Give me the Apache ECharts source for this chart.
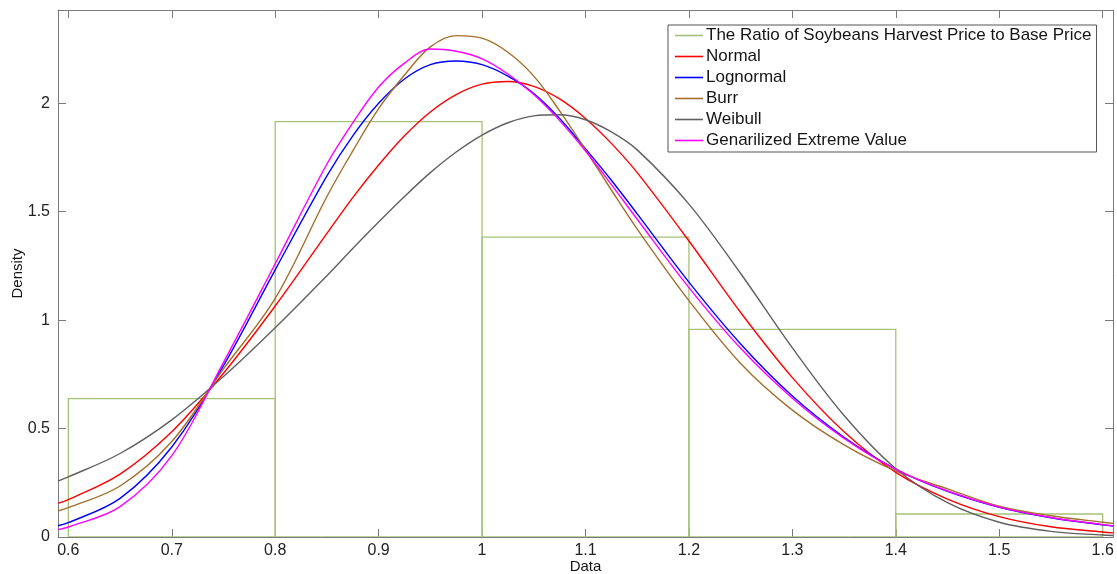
<!DOCTYPE html>
<html>
<head>
<meta charset="utf-8">
<script src="https://cdn.jsdelivr.net/npm/echarts@6/dist/echarts.min.js"></script>
<style>
html,body{margin:0;padding:0;background:#fff;}
#chart{width:1117px;height:574px;}
</style>
</head>
<body>
<div id="chart"></div>
<script>
// ---------- data ----------
const xTicks = [0.6, 0.7, 0.8, 0.9, 1.0, 1.1, 1.2, 1.3, 1.4, 1.5, 1.6];
const yTicks = [0, 0.5, 1, 1.5, 2];

const binStart   = [0.6, 0.8, 1.0, 1.2, 1.4];
const binEnd     = [0.8, 1.0, 1.2, 1.4, 1.6];
const binDensity = [0.638, 1.915, 1.383, 0.957, 0.106];

const xs = [0.59, 0.6, 0.65, 0.7, 0.75, 0.8, 0.85, 0.875, 0.9, 0.925, 0.95, 0.975, 1.0, 1.025,
            1.05, 1.075, 1.1, 1.125, 1.15, 1.2, 1.25, 1.3, 1.35, 1.4, 1.45, 1.5, 1.55, 1.6, 1.61];

const normalY = [0.155, 0.172, 0.29, 0.485, 0.755, 1.065, 1.40, 1.565, 1.715, 1.85, 1.96, 2.04, 2.088, 2.10,
                 2.078, 2.02, 1.93, 1.815, 1.68, 1.365, 1.035, 0.735, 0.485, 0.298, 0.175, 0.094, 0.047, 0.023, 0.019];
const lognormalY = [0.052, 0.066, 0.178, 0.415, 0.79, 1.232, 1.665, 1.85, 2.0, 2.112, 2.178, 2.195, 2.178, 2.125,
                    2.045, 1.93, 1.79, 1.645, 1.49, 1.175, 0.89, 0.65, 0.46, 0.313, 0.21, 0.137, 0.089, 0.056, 0.051];
const burrY = [0.12, 0.135, 0.235, 0.44, 0.775, 1.10, 1.57, 1.78, 1.975, 2.13, 2.26, 2.312, 2.30, 2.235,
               2.125, 1.965, 1.785, 1.6, 1.42, 1.09, 0.80, 0.585, 0.425, 0.305, 0.222, 0.142, 0.098, 0.068, 0.063];
const weibullY = [0.258, 0.277, 0.385, 0.54, 0.74, 0.965, 1.205, 1.33, 1.452, 1.57, 1.68, 1.775, 1.853, 1.91,
                  1.942, 1.947, 1.924, 1.868, 1.785, 1.535, 1.215, 0.872, 0.56, 0.315, 0.158, 0.068, 0.026, 0.009, 0.007];
const gevY = [0.034, 0.046, 0.14, 0.375, 0.805, 1.26, 1.72, 1.91, 2.075, 2.185, 2.25, 2.24, 2.205, 2.135,
              2.04, 1.92, 1.78, 1.625, 1.465, 1.15, 0.87, 0.64, 0.455, 0.312, 0.212, 0.138, 0.09, 0.057, 0.052];

const names = ['The Ratio of Soybeans Harvest Price to Base Price', 'Normal', 'Lognormal', 'Burr', 'Weibull', 'Genarilized Extreme Value'];
const colors = ['#a6c27a', '#ff0000', '#0000ff', '#a36f2b', '#606060', '#ff00ff'];

// ---------- chart ----------
const font = "'Liberation Sans', Arial, sans-serif";
const axisColor = '#7a7a7a';
const pair = (ys) => xs.map((x, i) => [x, ys[i]]);
const fmt = (v) => String(+(+v).toFixed(2));

const lineSeries = (name, ys, color) => ({
  name, type: 'line', data: pair(ys), smooth: 0.35, symbol: 'none', showSymbol: false,
  clip: true, itemStyle: { color }, lineStyle: { color, width: 1.4 }, z: 3
});

const chart = echarts.init(document.getElementById('chart'), null, { renderer: 'canvas' });
chart.setOption({
  animation: false,
  backgroundColor: '#fff',
  textStyle: { fontFamily: font },
  grid: { left: 58, right: 4, top: 10, bottom: 37, containLabel: false, outerBoundsMode: 'none' },
  legend: {
    orient: 'vertical', left: 668, top: 25,
    data: names,
    icon: 'rect', itemWidth: 28, itemHeight: 1.6, itemGap: 4,
    padding: [2, 5, 3, 7],
    backgroundColor: '#fff', borderColor: '#555', borderWidth: 1,
    textStyle: { fontSize: 17, color: '#151515', fontFamily: font, lineHeight: 17, padding: [0, 0, 0, -2] },
    selectedMode: false
  },
  xAxis: [{
    type: 'value', min: 0.59, max: 1.61, position: 'bottom',
    name: 'Data', nameLocation: 'middle', nameGap: 22, nameMoveOverlap: false,
    nameTextStyle: { fontSize: 15, color: '#151515', fontFamily: font },
    axisLine: { show: true, onZero: false, lineStyle: { color: axisColor, width: 1 } },
    axisTick: { show: true, inside: true, length: 8, customValues: xTicks, lineStyle: { color: axisColor } },
    axisLabel: { show: true, customValues: xTicks, formatter: fmt, fontSize: 16, color: '#222', margin: 6, fontFamily: font },
    splitLine: { show: false }
  }, {
    type: 'value', min: 0.59, max: 1.61, position: 'top',
    axisLine: { show: true, onZero: false, lineStyle: { color: axisColor, width: 1 } },
    axisTick: { show: true, inside: true, length: 8, customValues: xTicks, lineStyle: { color: axisColor } },
    axisLabel: { show: false },
    splitLine: { show: false }
  }],
  yAxis: [{
    type: 'value', min: 0, max: 2.43, position: 'left',
    name: 'Density', nameLocation: 'middle', nameGap: 33, nameRotate: 90, nameMoveOverlap: false,
    nameTextStyle: { fontSize: 15, color: '#151515', fontFamily: font },
    axisLine: { show: true, onZero: false, lineStyle: { color: axisColor, width: 1 } },
    axisTick: { show: true, inside: true, length: 8, customValues: yTicks, lineStyle: { color: axisColor } },
    axisLabel: { show: true, customValues: yTicks, formatter: fmt, fontSize: 16, color: '#222', margin: 8, fontFamily: font },
    splitLine: { show: false }
  }, {
    type: 'value', min: 0, max: 2.43, position: 'right',
    axisLine: { show: true, onZero: false, lineStyle: { color: axisColor, width: 1 } },
    axisTick: { show: true, inside: true, length: 8, customValues: yTicks, lineStyle: { color: axisColor } },
    axisLabel: { show: false },
    splitLine: { show: false }
  }],
  series: [
    {
      name: names[0], type: 'custom', clip: true, z: 2,
      itemStyle: { color: colors[0] },
      encode: { x: [0, 1], y: 2 },
      data: binStart.map((s, i) => [s, binEnd[i], binDensity[i]]),
      renderItem: (params, api) => {
        const p0 = api.coord([api.value(0), api.value(2)]);
        const p1 = api.coord([api.value(1), 0]);
        return {
          type: 'rect',
          shape: { x: p0[0], y: p0[1], width: p1[0] - p0[0], height: p1[1] - p0[1] },
          style: { fill: 'none', stroke: colors[0], lineWidth: 1.3 }
        };
      }
    },
    lineSeries(names[1], normalY, colors[1]),
    lineSeries(names[2], lognormalY, colors[2]),
    lineSeries(names[3], burrY, colors[3]),
    lineSeries(names[4], weibullY, colors[4]),
    lineSeries(names[5], gevY, colors[5])
  ]
});
</script>
</body>
</html>
